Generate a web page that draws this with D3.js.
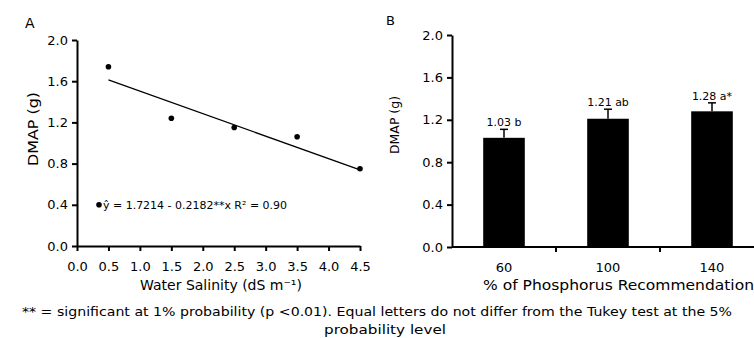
<!DOCTYPE html>
<html>
<head>
<meta charset="utf-8">
<script src="https://cdn.jsdelivr.net/npm/d3@7"></script>
<style>
  body { margin: 0; background: #fff; }
  text { font-family: "DejaVu Sans", sans-serif; fill: #000; }
  .axis path, .axis line { stroke: #000; stroke-width: 2; }
  .axis text { font-size: 13px; }
</style>
</head>
<body>
<svg id="chart" width="754" height="338"></svg>
<script>
// panel A: salinity regression
var salinity = [0.5, 1.5, 2.5, 3.5, 4.5];
var dmapSalinity = [1.74, 1.24, 1.15, 1.06, 0.75];
var fitCoef = [1.7214, -0.2182];
var salinityTicks = [0, 0.5, 1, 1.5, 2, 2.5, 3, 3.5, 4, 4.5];
var yTicks = [0, 0.4, 0.8, 1.2, 1.6, 2.0];

// panel B: phosphorus bars
var phosphorus = ["60", "100", "140"];
var dmapPhosphorus = [1.03, 1.21, 1.28];
var errPhosphorus = [0.08, 0.09, 0.08];
var barLabels = ["1.03 b", "1.21 ab", "1.28 a*"];

var svg = d3.select("#chart");

// ---------- A ----------
var xA = d3.scaleLinear().domain([0, 4.5]).range([77, 360]);
var yA = d3.scaleLinear().domain([0, 2]).range([246, 40]);

svg.append("g")
    .attr("class", "axis")
    .attr("transform", "translate(0," + yA(0) + ")")
    .call(d3.axisBottom(xA).tickValues(salinityTicks).tickSize(5).tickSizeOuter(0)
      .tickFormat(d3.format(".1f")))
    .selectAll("text").attr("y", 25).attr("dy", 0);

svg.append("g")
    .attr("class", "axis")
    .attr("transform", "translate(" + xA(0) + ",0)")
    .call(d3.axisLeft(yA).tickValues(yTicks).tickSize(5).tickSizeOuter(0).tickPadding(4)
      .tickFormat(d3.format(".1f")));

var fit = d3.line()
    .x(function(d) { return xA(d); })
    .y(function(d) { return yA(fitCoef[0] + fitCoef[1] * d); });

svg.append("path")
    .datum([salinity[0], salinity[salinity.length - 1]])
    .attr("d", fit)
    .attr("fill", "none")
    .attr("stroke", "#000")
    .attr("stroke-width", 1.3);

svg.selectAll(".pt")
    .data(salinity)
  .enter().append("circle")
    .attr("class", "pt")
    .attr("cx", function(d) { return xA(d); })
    .attr("cy", function(d, i) { return yA(dmapSalinity[i]); })
    .attr("r", 2.8)
    .attr("fill", "#000");

svg.append("circle")
    .attr("cx", 99).attr("cy", yA(0.4)).attr("r", 2.8).attr("fill", "#000");
svg.append("text")
    .attr("x", 103).attr("y", yA(0.4) + 4)
    .style("font-size", "11px")
    .attr("textLength", 184).attr("lengthAdjust", "spacingAndGlyphs")
    .text("ŷ = 1.7214 - 0.2182**x R² = 0.90");

svg.append("text")
    .attr("x", 25).attr("y", 28)
    .style("font-size", "14px")
    .text("A");

svg.append("text")
    .attr("transform", "translate(38," + 129 + ") rotate(-90)")
    .attr("text-anchor", "middle")
    .style("font-size", "14px")
    .attr("textLength", 74).attr("lengthAdjust", "spacingAndGlyphs")
    .text("DMAP  (g)");

svg.append("text")
    .attr("x", 221).attr("y", 290)
    .attr("text-anchor", "middle")
    .style("font-size", "14px")
    .text("Water Salinity (dS m⁻¹)");

// ---------- B ----------
var xB = d3.scaleBand().domain(phosphorus).range([452, 764]).paddingInner(0.6).paddingOuter(0.3);
var yB = d3.scaleLinear().domain([0, 2]).range([247, 35]);

var xAxisB = svg.append("g")
    .attr("class", "axis")
    .attr("transform", "translate(0," + yB(0) + ")");
xAxisB.append("line")
    .attr("x1", 452).attr("x2", 764).attr("stroke", "#000").attr("stroke-width", 2);
var step = xB.step();
xAxisB.selectAll(".sep")
    .data(phosphorus.slice(1))
  .enter().append("line")
    .attr("x1", function(d) { return xB(d) + xB.bandwidth() / 2 - step / 2; })
    .attr("x2", function(d) { return xB(d) + xB.bandwidth() / 2 - step / 2; })
    .attr("y1", 0).attr("y2", 5)
    .attr("stroke", "#000").attr("stroke-width", 2);
xAxisB.selectAll(".cat")
    .data(phosphorus)
  .enter().append("text")
    .attr("x", function(d) { return xB(d) + xB.bandwidth() / 2; })
    .attr("y", 25)
    .attr("text-anchor", "middle")
    .style("font-size", "13px")
    .text(function(d) { return d; });

svg.append("g")
    .attr("class", "axis")
    .attr("transform", "translate(452,0)")
    .call(d3.axisLeft(yB).tickValues(yTicks).tickSize(5).tickSizeOuter(0).tickPadding(4)
      .tickFormat(d3.format(".1f")));

svg.selectAll(".bar")
    .data(phosphorus)
  .enter().append("rect")
    .attr("class", "bar")
    .attr("x", function(d) { return xB(d); })
    .attr("y", function(d, i) { return yB(dmapPhosphorus[i]); })
    .attr("width", xB.bandwidth())
    .attr("height", function(d, i) { return yB(0) - yB(dmapPhosphorus[i]); })
    .attr("fill", "#000");

var err = svg.selectAll(".err")
    .data(phosphorus)
  .enter().append("g")
    .attr("class", "err");
err.append("line")
    .attr("x1", function(d) { return xB(d) + xB.bandwidth() / 2; })
    .attr("x2", function(d) { return xB(d) + xB.bandwidth() / 2; })
    .attr("y1", function(d, i) { return yB(dmapPhosphorus[i]); })
    .attr("y2", function(d, i) { return yB(dmapPhosphorus[i] + errPhosphorus[i]); })
    .attr("stroke", "#000").attr("stroke-width", 1.5);
err.append("line")
    .attr("x1", function(d) { return xB(d) + xB.bandwidth() / 2 - 4; })
    .attr("x2", function(d) { return xB(d) + xB.bandwidth() / 2 + 4; })
    .attr("y1", function(d, i) { return yB(dmapPhosphorus[i] + errPhosphorus[i]); })
    .attr("y2", function(d, i) { return yB(dmapPhosphorus[i] + errPhosphorus[i]); })
    .attr("stroke", "#000").attr("stroke-width", 1.5);

svg.selectAll(".lbl")
    .data(phosphorus)
  .enter().append("text")
    .attr("class", "lbl")
    .attr("x", function(d) { return xB(d) + xB.bandwidth() / 2; })
    .attr("y", function(d, i) { return yB(dmapPhosphorus[i] + errPhosphorus[i]) - 3; })
    .attr("text-anchor", "middle")
    .style("font-size", "11px")
    .text(function(d, i) { return barLabels[i]; });

svg.append("text")
    .attr("x", 386).attr("y", 25)
    .style("font-size", "13px")
    .text("B");

svg.append("text")
    .attr("transform", "translate(399," + 125 + ") rotate(-90)")
    .attr("text-anchor", "middle")
    .style("font-size", "12px")
    .attr("textLength", 58).attr("lengthAdjust", "spacingAndGlyphs")
    .text("DMAP (g)");

svg.append("text")
    .attr("x", 483).attr("y", 290)
    .style("font-size", "14px")
    .attr("textLength", 271).attr("lengthAdjust", "spacingAndGlyphs")
    .text("% of Phosphorus Recommendation");

// ---------- footnote ----------
svg.append("text")
    .attr("x", 22).attr("y", 316)
    .style("font-size", "13px")
    .attr("textLength", 710).attr("lengthAdjust", "spacingAndGlyphs")
    .text("** = significant at 1% probability (p <0.01).  Equal letters do not differ from the Tukey test at the 5%");
svg.append("text")
    .attr("x", 385).attr("y", 334)
    .attr("text-anchor", "middle")
    .style("font-size", "13px")
    .attr("textLength", 122).attr("lengthAdjust", "spacingAndGlyphs")
    .text("probability level");
</script>
</body>
</html>
